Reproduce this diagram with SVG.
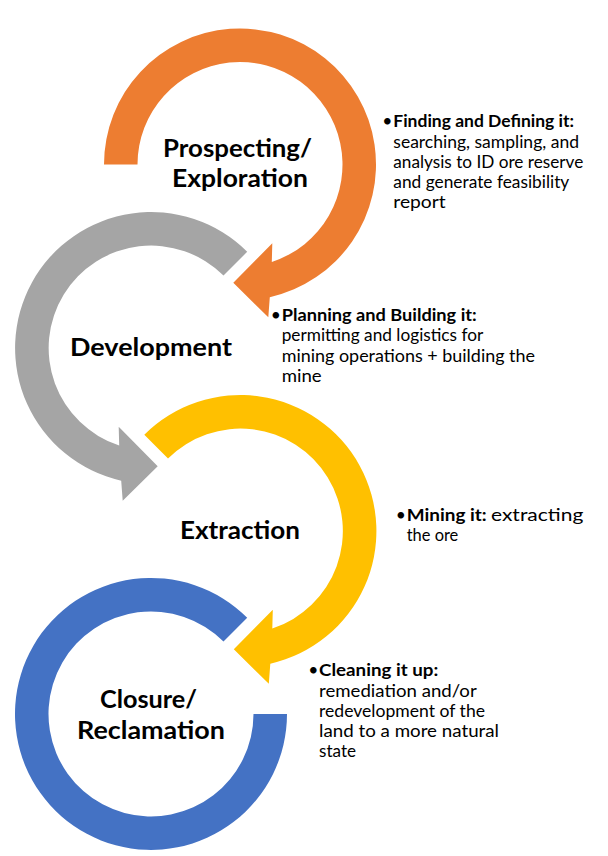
<svg xmlns="http://www.w3.org/2000/svg" width="608" height="856" viewBox="0 0 608 856">
<style>
.title{font-family:Lato,"Liberation Sans",sans-serif;font-weight:bold;font-size:25.5px;fill:#000;text-anchor:middle}
.body{font-family:Lato,"Liberation Sans",sans-serif;font-size:17.5px;fill:#000}
.b{font-weight:bold}
.bul{text-anchor:end}
.orange{fill:#ED7D31}
.gray{fill:#A5A5A5}
.yellow{fill:#FFC000}
.blue{fill:#4472C4}
</style>
<rect width="608" height="856" fill="#fff"/>
<g id="node-prospecting">
<path class="orange" d="M104,164.5 A136,136 0 1 1 269.8,297.2 L268.3,317.3 L233.3,282.7 L272.3,243.3 L271.8,262 A102.5,102.5 0 1 0 137.5,164.5 Z"/>
<text class="title" x="237.5" y="157" textLength="149" lengthAdjust="spacingAndGlyphs">Prospecting/</text>
<text class="title" x="240" y="187" textLength="136" lengthAdjust="spacingAndGlyphs">Exploration</text>
</g>
<g id="node-development">
<path class="gray" d="M247.2,251.8 A136,136 0 1 0 121.2,480.7 L122.7,500.8 L157.7,466.2 L118.7,426.8 L119.2,445.5 A102.5,102.5 0 1 1 223.5,275.5 Z"/>
<text class="title" x="151" y="356" textLength="162" lengthAdjust="spacingAndGlyphs">Development</text>
</g>
<g id="node-extraction">
<path class="yellow" d="M144.3,434.8 A136,136 0 1 1 270.3,663.7 L268.8,683.8 L233.8,649.2 L272.8,609.8 L272.3,628.5 A102.5,102.5 0 1 0 168,458.5 Z"/>
<text class="title" x="240" y="539" textLength="120" lengthAdjust="spacingAndGlyphs">Extraction</text>
</g>
<g id="node-closure">
<path class="blue" d="M247.2,617.8 A136,136 0 1 0 287,714 L253.5,714 A102.5,102.5 0 1 1 223.5,641.5 Z"/>
<text class="title" x="148.5" y="707.7" textLength="97" lengthAdjust="spacingAndGlyphs">Closure/</text>
<text class="title" x="151" y="738.5" textLength="148" lengthAdjust="spacingAndGlyphs">Reclamation</text>
</g>
<g id="desc-prospecting" class="body">
<text class="bul" x="392.5" y="126.7">•</text>
<text class="b" x="393.3" y="126.7" textLength="180.7" lengthAdjust="spacingAndGlyphs">Finding and Defining it:</text>
<text x="393.3" y="147.7" textLength="185.7" lengthAdjust="spacingAndGlyphs">searching, sampling, and</text>
<text x="393.3" y="168.3" textLength="190" lengthAdjust="spacingAndGlyphs">analysis to ID ore reserve</text>
<text x="393.3" y="188.3" textLength="176" lengthAdjust="spacingAndGlyphs">and generate feasibility</text>
<text x="393.3" y="208.3" textLength="52.4" lengthAdjust="spacingAndGlyphs">report</text>
</g>
<g id="desc-development" class="body">
<text class="bul" x="281" y="320.7">•</text>
<text class="b" x="281.7" y="320.7" textLength="195" lengthAdjust="spacingAndGlyphs">Planning and Building it:</text>
<text x="281.7" y="341.3" textLength="201.6" lengthAdjust="spacingAndGlyphs">permitting and logistics for</text>
<text x="281.7" y="361.7" textLength="253.3" lengthAdjust="spacingAndGlyphs">mining operations + building the</text>
<text x="281.7" y="381.7" textLength="40" lengthAdjust="spacingAndGlyphs">mine</text>
</g>
<g id="desc-extraction" class="body">
<text class="bul" x="406" y="520.7">•</text>
<text class="b" x="406.7" y="520.7" textLength="80" lengthAdjust="spacingAndGlyphs">Mining it:</text>
<text x="491" y="520.7" textLength="92.3" lengthAdjust="spacingAndGlyphs">extracting</text>
<text x="406.7" y="540.7" textLength="51.6" lengthAdjust="spacingAndGlyphs">the ore</text>
</g>
<g id="desc-closure" class="body">
<text class="bul" x="318.3" y="675.7">•</text>
<text class="b" x="319" y="675.7" textLength="119.3" lengthAdjust="spacingAndGlyphs">Cleaning it up:</text>
<text x="319" y="696.7" textLength="157.7" lengthAdjust="spacingAndGlyphs">remediation and/or</text>
<text x="319" y="716.7" textLength="166" lengthAdjust="spacingAndGlyphs">redevelopment of the</text>
<text x="319" y="737.3" textLength="180" lengthAdjust="spacingAndGlyphs">land to a more natural</text>
<text x="319" y="756.7" textLength="37" lengthAdjust="spacingAndGlyphs">state</text>
</g>
</svg>
